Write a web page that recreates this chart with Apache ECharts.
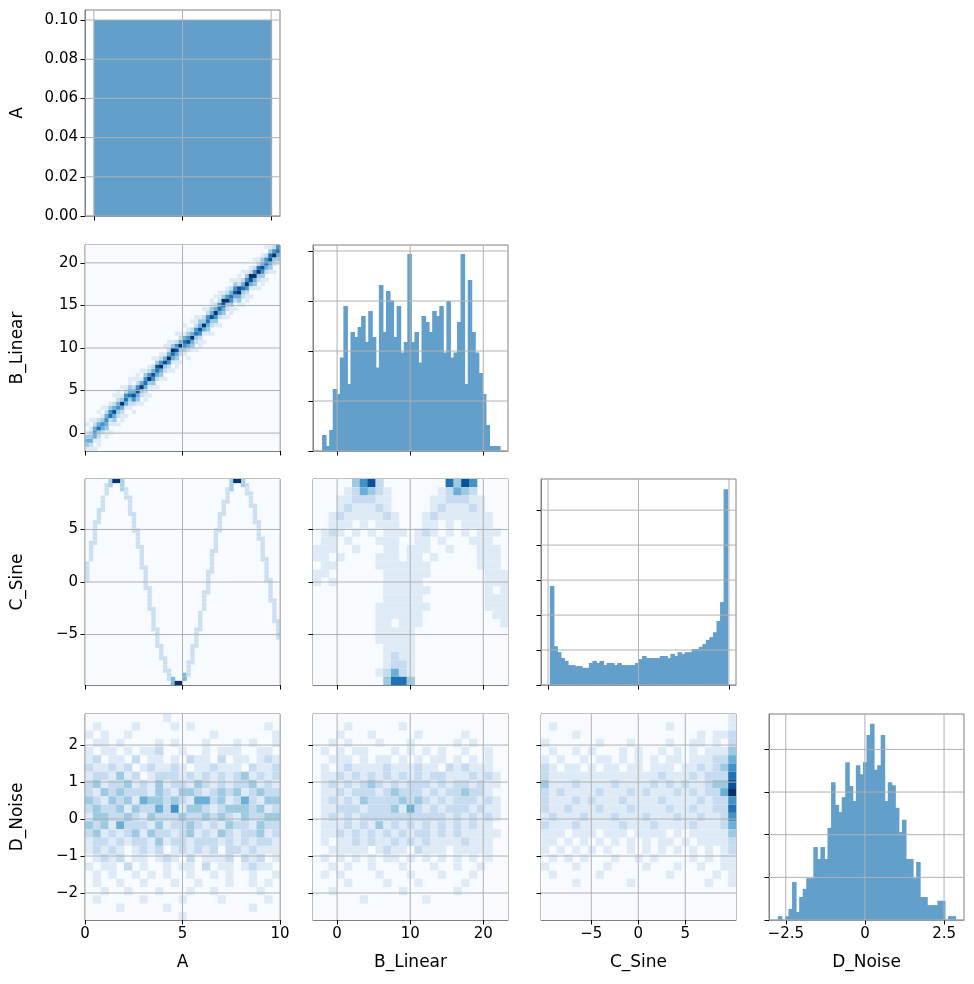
<!DOCTYPE html>
<html><head><meta charset="utf-8">
<script src="https://cdn.jsdelivr.net/npm/echarts@6/dist/echarts.min.js"></script>
<style>html,body{margin:0;padding:0;background:#fff}#c{width:974px;height:984px}</style>
</head><body><div id="c"></div>
<script>
// ---------- data ----------
const varNames = ['A', 'B_Linear', 'C_Sine', 'D_Noise'];
const aHist = [1.0];
const aHistRange = [0, 10];
const bHist = [0.32,0.1,0.42,1.24,1.14,1.87,2.9,1.34,2.38,2.28,2.48,2.7,2.18,2.8,2.28,1.67,3.32,2.38,3.2,3.01,2.28,2.9,1.97,2.18,3.94,2.18,2.38,1.77,2.7,2.58,2.38,2.8,2.7,2.9,1.97,3.0,1.87,1.97,2.58,3.94,1.34,3.42,2.38,1.97,1.56,1.14,0.52,0.1,0.1,0.1];
const bHistRange = [-2.06, 22.24];
const cHist = [2.83,1.11,0.94,0.77,0.69,0.57,0.57,0.54,0.54,0.49,0.49,0.63,0.69,0.63,0.69,0.57,0.63,0.63,0.57,0.63,0.57,0.57,0.57,0.57,0.63,0.74,0.83,0.77,0.77,0.77,0.77,0.83,0.83,0.77,0.89,0.83,0.94,0.89,0.94,0.94,1.03,1.03,1.09,1.17,1.29,1.37,1.51,1.83,2.37,5.6];
const cHistRange = [-9.8, 9.8];
const dHist = [0.09,0,0.09,0.26,0.89,0.19,0.54,0.73,0.98,0.98,1.71,1.43,1.71,1.43,2.16,3.23,2.7,2.53,2.88,3.7,3.14,2.79,3.63,3.42,3.7,4.34,4.6,3.52,3.63,4.34,2.79,3.23,3.16,2.63,2.06,2.35,1.43,1.43,0.98,1.36,0.54,0.54,0.35,0.35,0.35,0.45,0.45,0,0.09,0.09];
const dHistRange = [-2.75, 2.85];

const abStart = [-2,-1,0,1,2,3,4,5,6,7,8,9,9,10,11,12,13,14,15,16,17,18,19,20,21,22,22,23,24,25,26,27,28,29,30,31,32,33,34,34,35,36,37,38,39,40,41,42,43,44];
const abCells = ["101343101","012432101","101454210","112364201","002453101","113454210","101265310","013474201","102354211","112483101",
"101465210","012364311","102574201","013475211","102384101","112465310","101385210","013574201","102467310","013485210",
"102374101","012584211","101468310","113475201","102384210","013564101","102475310","013484201","102365211","112574310",
"101483201","013465210","102374311","013584201","102465211","013478310","102385210","113564201","102475310","013487211",
"102364201","112585310","101478210","013485201","102386210","113574310","102465201","013476310","102385210","013465201"];
const acEdges = [25,30,34.7,39.1,42.9,46,48.3,49.6,49.99,49.3,47.7,45.2,41.9,37.9,33.4,28.5,23.5,18.6,13.9,9.7,6.1,3.2,1.2,0.15,0.1,1.0,2.9,5.7,9.2,13.4,18,22.9,27.9,32.8,37.4,41.4,44.9,47.5,49.2,49.96,49.7,48.5,46.4,43.4,39.6,35.3,30.6,25.6,20.6,15.8,11.4];
const acLevel = "222222"+"3993"+"222222222222"+"4994"+"22222222222"+"3993"+"222222222";

const cbGrid = ["0000035720000000063750000","0000124321000000124320000","0001122211000001122211000","0001211121000001211121000","0012111112100012111111100","0011101011100011010111100","0121010101110121010101110","0110100011100110100011100","1110010001101110010001110","1101000011101101000001110","0110000011111110000001110","1100000001111110000000111","1010000001111100000000111","0000000001111110000000101","0000000001111100000000111","0000000011111110000000111","0000000011111100000000011","0000000011011100000000001","0000000011111000000000000","0000000011111000000000000","0000000001111000000000000","0000000001211000000000000","0000000001221000000000000","0000000012421000000000000","0000000003663000000000000"];
const daGrid = ["0000000000100000000000000","0100001000010100000000010","1010010000000000100000001","0110100001010001000101001","1011010112001001011100110","1201102011010211020110121","2112120121121011211102112","1221312012221212121231212","2312231213122132121223121","2132322213213321232312322","3213231433232144231242133","2322313224251332123332312","1332232132223223232132233","3231422213122321213221322","2312123132212312132122312","1221212213122122212121221","1212101212012121202212111","0121201101210201112021201","1011020100101102011012110","0101001010100100101001001","0100100100010010001001010","0010010001000100100000100","0100000100001000010000010","0000100000100000000001000","0000000000001000000000000"];
const dbGrid = ["0000000000000000000000000","0000100000010000000000000","0001000100000100000100000","0010100010001000001010000","0101011000101010100100100","0011101011010101101010100","0101211112111211021211100","0112121212121212211121210","0121212321212221212212110","0112122212322212122322100","0121213222232321212221210","0112221222314212122212110","0121212222222222212121210","0111212131212121212121100","0112121212121221212111110","0101121211212121111211100","0011111012110211101111100","0101010101101010101010100","0010100100010001001001000","0101000010001000100010000","0000100001000100000100000","0010000000010000001000000","0000001000000010000000000","0000000000000000000000000","0000000000000000000000000"];
const dcGrid = ["0000000000000000000000001","0100000000000000100000001","0000100000000000000010112","1000000100010000100110102","0100101000101001010101113","1010010110101010110111224","2101101011011011101121235","2111111111111112111212226","3111211112111121212112337","2121111211121211121212248","2111212111211112111121225","2112111211121111211211226","1211121112111211121121125","2111211111211121111211124","1110111011101111010111113","1101010101010101101011112","1010101010010101010101012","0101010001001010000101011","1000100010000100010010011","0100000100000000100000101","0000100000010000000001001","0000000000000000000000000","0000000000000000000000000","0000000000000000000000000","0000000000000000000000000"];

const colX = [[0,10],[-3.3,23.38],[-10.35,10.4],[-3.03,3.13]];
const colXTicks = [[0,5,10],[0,10,20],[-5,0,5],[-2.5,0,2.5]];
const diagX = [[-0.5,10.5],[-3.3,23.38],[-10.78,10.78],[-3.03,3.13]];
const diagXTicks = [[0,5,10],[0,10,20],[-10,0,10],[-2.5,0,2.5]];
const rowY = [[0,0.1051],[-2.1,22.1],[-9.8,9.8],[-2.73,2.84]];
const rowYTicks = [[0,0.02,0.04,0.06,0.08,0.10],[0,5,10,15,20],[-5,0,5],[-2,-1,0,1,2]];
const diagY = [[0,0.1051],[0,4.12],[0,5.89],[0,4.83]];
const diagYTicks = [[0,0.02,0.04,0.06,0.08,0.10],[0,1,2,3,4],[0,1,2,3,4,5],[0,1,2,3,4]];

// ---------- layout ----------
const colLeft = [85,313,541,769], rowTop = [10,245,479,714], W = 195, H = 206;
const BLUES = ['#f7fbff','#deebf7','#c6dbef','#9ecae1','#6baed6','#4292c6','#2171b5','#08519c','#08306b'];
function hex(c){return [1,3,5].map(i=>parseInt(c.substr(i,2),16));}
function blue(t){t=Math.max(0,Math.min(1,t))*(BLUES.length-1);const i=Math.min(Math.floor(t),BLUES.length-2),f=t-i;const a=hex(BLUES[i]),b=hex(BLUES[i+1]);return 'rgb('+a.map((v,k)=>Math.round(v+(b[k]-v)*f)).join(',')+')';}
const HISTC = '#62a0cb';

const grid=[],xAxis=[],yAxis=[],series=[],graphic=[];
const FONT='DejaVu Sans';
const fmt=v=>String(Math.abs(v)<1e-9?0:v).replace('-','\u2212');
function addPanel(r,c,xr,xt,yr,yt,yfmt){
  const gi=grid.length;
  grid.push({left:colLeft[c],top:rowTop[r],width:W,height:H,show:true,borderColor:'#808080',borderWidth:1,backgroundColor:'transparent'});
  const tick={show:true,length:4.5,lineStyle:{color:'#000',width:1}};
  xAxis.push({type:'value',gridIndex:gi,min:xr[0],max:xr[1],splitLine:{show:false},
    axisLine:{show:true,onZero:false,lineStyle:{color:'#808080'}},
    axisTick:Object.assign({customValues:xt},tick),
    axisLabel:{show:r===3,customValues:xt,color:'#000',fontSize:15,fontFamily:FONT,margin:7,formatter:fmt}});
  yAxis.push({type:'value',gridIndex:gi,min:yr[0],max:yr[1],splitLine:{show:false},
    axisLine:{show:true,onZero:false,lineStyle:{color:'#808080'}},
    axisTick:Object.assign({customValues:yt},tick),
    axisLabel:{show:c===0,customValues:yt,color:'#000',fontSize:15,fontFamily:FONT,margin:7,formatter:yfmt||fmt}});
  const gl=xt.map(v=>[v,0]).concat(yt.map(v=>[v,1]));
  series.push({type:'custom',xAxisIndex:gi,yAxisIndex:gi,z:5,silent:true,data:gl,
    renderItem:(p,api)=>{const cs=p.coordSys;const v=api.value(0),d=api.value(1);
      if(d===0){const x=api.coord([v,yr[0]])[0];return {type:'line',shape:{x1:x,y1:cs.y,x2:x,y2:cs.y+cs.height},style:{stroke:'#b0b0b0',lineWidth:1}};}
      const y=api.coord([xr[0],v])[1];return {type:'line',shape:{x1:cs.x,y1:y,x2:cs.x+cs.width,y2:y},style:{stroke:'#b0b0b0',lineWidth:1}};}});
  return gi;
}
function rectSeries(gi,data,colorFn,pad){
  series.push({type:'custom',xAxisIndex:gi,yAxisIndex:gi,z:2,silent:true,clip:true,data:data,
    encode:{x:[0,1],y:[2,3]},
    renderItem:(p,api)=>{const a=api.coord([api.value(0),api.value(3)]),b=api.coord([api.value(1),api.value(2)]);
      return {type:'rect',shape:{x:a[0],y:a[1],width:b[0]-a[0]+pad,height:b[1]-a[1]},style:{fill:colorFn(api.value(4)),stroke:null}};}});
}
function hist(gi,h,range,scale){
  const w=(range[1]-range[0])/h.length;
  rectSeries(gi,h.map((v,i)=>[range[0]+i*w,range[0]+(i+1)*w,0,v*scale,1]).filter(d=>d[3]>0),()=>HISTC,1);
}
function heat(gi,cells,xr,yr,nx,ny,max){
  const dx=(xr[1]-xr[0])/nx,dy=(yr[1]-yr[0])/ny;
  const data=[[xr[0],xr[1],yr[0],yr[1],0]];
  cells.forEach(([i,j,v])=>{if(v>0&&i>=0&&i<nx&&j>=0&&j<ny)data.push([xr[0]+i*dx,xr[0]+(i+1)*dx,yr[0]+j*dy,yr[0]+(j+1)*dy,v/max]);});
  rectSeries(gi,data,t=>blue(t),0.5);
}
function gridCells(g){const n=g.length,out=[];g.forEach((row,r)=>{for(let i=0;i<row.length;i++)out.push([i,n-1-r,+row[i]]);});return out;}

let gi;
gi=addPanel(0,0,diagX[0],diagXTicks[0],diagY[0],diagYTicks[0],v=>v.toFixed(2)); hist(gi,aHist,aHistRange,0.1);
gi=addPanel(1,1,diagX[1],diagXTicks[1],diagY[1],diagYTicks[1]); hist(gi,bHist,bHistRange,1);
gi=addPanel(2,2,diagX[2],diagXTicks[2],diagY[2],diagYTicks[2]); hist(gi,cHist,cHistRange,1);
gi=addPanel(3,3,diagX[3],diagXTicks[3],diagY[3],diagYTicks[3]); hist(gi,dHist,dHistRange,1);

gi=addPanel(1,0,colX[0],colXTicks[0],rowY[1],rowYTicks[1]);
{const cells=[];abCells.forEach((s,i)=>{for(let k=0;k<s.length;k++)cells.push([i,abStart[i]+k,+s[k]]);});heat(gi,cells,colX[0],rowY[1],50,50,8);}
gi=addPanel(2,0,colX[0],colXTicks[0],rowY[2],rowYTicks[2]);
{const cells=[];for(let i=0;i<50;i++){const a=acEdges[i],b=acEdges[i+1];const lo=Math.floor(Math.min(a,b)),hi=Math.min(49,Math.floor(Math.max(a,b)-0.01));for(let j=lo;j<=hi;j++)cells.push([i,j,+acLevel[i]]);}heat(gi,cells,colX[0],rowY[2],50,50,9);}
gi=addPanel(2,1,colX[1],colXTicks[1],rowY[2],rowYTicks[2]); heat(gi,gridCells(cbGrid),colX[1],rowY[2],25,25,8);
gi=addPanel(3,0,colX[0],colXTicks[0],rowY[3],rowYTicks[3]); heat(gi,gridCells(daGrid),colX[0],rowY[3],25,25,8);
gi=addPanel(3,1,colX[1],colXTicks[1],rowY[3],rowYTicks[3]); heat(gi,gridCells(dbGrid),colX[1],rowY[3],25,25,8);
gi=addPanel(3,2,colX[2],colXTicks[2],rowY[3],rowYTicks[3]); heat(gi,gridCells(dcGrid),colX[2],rowY[3],25,25,8);

varNames.forEach((n,k)=>{
  graphic.push({type:'text',x:colLeft[k]+W/2,y:963,style:{text:n,font:'17px "DejaVu Sans"',fill:'#000',align:'center',verticalAlign:'middle'}});
  graphic.push({type:'text',x:18,y:rowTop[k]+H/2,rotation:Math.PI/2,style:{text:n,font:'17px "DejaVu Sans"',fill:'#000',align:'center',verticalAlign:'middle'}});
});

const chart=echarts.init(document.getElementById('c'),null,{renderer:'canvas'});
chart.setOption({animation:false,backgroundColor:'#fff',grid,xAxis,yAxis,series,graphic});
</script></body></html>
